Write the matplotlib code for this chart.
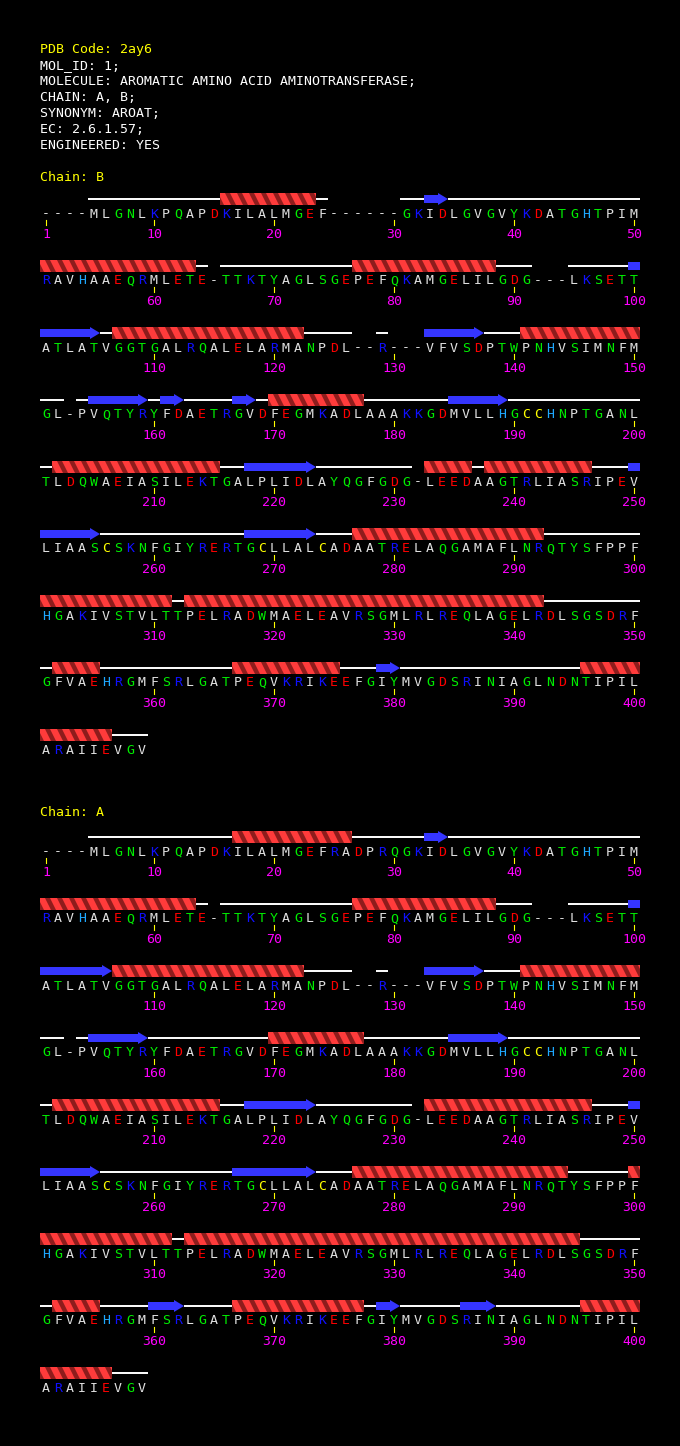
import numpy as np
import matplotlib
matplotlib.use("Agg")
import matplotlib.pyplot as plt
from matplotlib.patches import Polygon

# header text
header = ["PDB Code: 2ay6", "MOL_ID: 1;",
          "MOLECULE: AROMATIC AMINO ACID AMINOTRANSFERASE;",
          "CHAIN: A, B;", "SYNONYM: AROAT;", "EC: 2.6.1.57;", "ENGINEERED: YES"]

# sequences, 50 residues per row
rows_b = ["----MLGNLKPQAPDKILALMGEF------GKIDLGVGVYKDATGHTPIM",
          "RAVHAAEQRMLETE-TTKTYAGLSGEPEFQKAMGELILGDG---LKSETT",
          "ATLATVGGTGALRQALELARMANPDL--R---VFVSDPTWPNHVSIMNFM",
          "GL-PVQTYRYFDAETRGVDFEGMKADLAAAKKGDMVLLHGCCHNPTGANL",
          "TLDQWAEIASILEKTGALPLIDLAYQGFGDG-LEEDAAGTRLIASRIPEV",
          "LIAASCSKNFGIYRERTGCLLALCADAATRELAQGAMAFLNRQTYSFPPF",
          "HGAKIVSTVLTTPELRADWMAELEAVRSGMLRLREQLAGELRDLSGSDRF",
          "GFVAEHRGMFSRLGATPEQVKRIKEEFGIYMVGDSRINIAGLNDNTIPIL",
          "ARAIIEVGV"]
rows_a = ["----MLGNLKPQAPDKILALMGEFRADPRQGKIDLGVGVYKDATGHTPIM"] + rows_b[1:]
seq_b = "".join(rows_b)
seq_a = "".join(rows_a)

# secondary structure (first, last residue)
helix_b = [(16, 23), (51, 63), (77, 88), (107, 122), (141, 150), (170, 177),
           (202, 215), (233, 236), (238, 246), (277, 292), (301, 311),
           (313, 342), (352, 355), (367, 375), (396, 406)]
strand_b = [(33, 34), (100, 105), (133, 137), (155, 159), (161, 162),
            (167, 168), (185, 189), (218, 223), (250, 255), (268, 273),
            (379, 380)]
helix_a = [(17, 26), (51, 63), (77, 88), (107, 122), (141, 150), (170, 177),
           (202, 215), (233, 246), (277, 294), (300, 311), (313, 345),
           (352, 355), (367, 377), (396, 406)]
strand_a = [(33, 34), (100, 106), (133, 137), (155, 159), (185, 189),
            (218, 223), (250, 255), (267, 273), (360, 362), (379, 380),
            (386, 388)]

aa_col = {}
for c in "AVLIMFP-":
    aa_col[c] = "#e0e0e0"
for c in "GSTNQYW":
    aa_col[c] = "#00ee00"
for c in "DE":
    aa_col[c] = "#ff0000"
for c in "KR":
    aa_col[c] = "#1010ff"
aa_col["H"] = "#1ea8ff"
aa_col["C"] = "#ffff00"

FONT = "DejaVu Sans Mono"
FS = 9.5
PER_ROW = 50
DX = 12
X0 = 46
ROW_GAP = 67


def xc(i):
    return X0 + DX * (i % PER_ROW)


def clip_x(pts, lo, hi):
    # clip a convex polygon to lo <= x <= hi
    def cut(poly, inside, xcut):
        out = []
        for k in range(len(poly)):
            p, q = poly[k], poly[(k + 1) % len(poly)]
            pin, qin = inside(p[0]), inside(q[0])
            if pin:
                out.append(p)
            if pin != qin:
                t = (xcut - p[0]) / (q[0] - p[0])
                out.append((xcut, p[1] + t * (q[1] - p[1])))
        return out
    pts = cut(pts, lambda x: x >= lo, lo)
    if pts:
        pts = cut(pts, lambda x: x <= hi, hi)
    return pts


def draw_helix(ax, xl, xr, y0):
    top, bot = y0 - 6, y0 + 6
    ax.add_patch(Polygon([(xl, top), (xr, top), (xr, bot), (xl, bot)],
                         closed=True, facecolor="#ff3b3b", edgecolor="none"))
    for k in range(-1, int((xr - xl) // DX) + 1):
        a = xl + DX * k + 5
        pts = clip_x([(a, top), (a + 5, top), (a + 11, bot), (a + 6, bot)],
                     xl, xr)
        if len(pts) >= 3:
            ax.add_patch(Polygon(pts, closed=True, facecolor="#8e1c1c",
                                 edgecolor="none"))


def draw_strand(ax, xl, xr, y0, head):
    col = "#3535ff"
    if head:
        hx = xr - 10
        pts = [(xl, y0 - 4), (hx, y0 - 4), (hx, y0 - 6), (xr, y0),
               (hx, y0 + 6), (hx, y0 + 4), (xl, y0 + 4)]
    else:
        pts = [(xl, y0 - 4), (xr, y0 - 4), (xr, y0 + 4), (xl, y0 + 4)]
    ax.add_patch(Polygon(pts, closed=True, facecolor=col, edgecolor="none"))


def draw_chain(ax, seq, helices, strands, y_first):
    n = len(seq)
    ss = ["-" if ch == "-" else "C" for ch in seq]
    for s, e in helices:
        for k in range(s - 1, e):
            ss[k] = "H"
    for s, e in strands:
        for k in range(s - 1, e):
            ss[k] = "E"
    nrows = int(np.ceil(n / PER_ROW))
    for r in range(nrows):
        y0 = y_first + ROW_GAP * r
        lo, hi = r * PER_ROW, min(n, (r + 1) * PER_ROW)
        for i in range(lo, hi):
            ax.text(xc(i), y0 + 18.5, seq[i], color=aa_col[seq[i]],
                    ha="center", va="baseline", family=FONT, fontsize=FS)
            num = i + 1
            if num == 1 or num % 10 == 0:
                ax.plot([xc(i), xc(i)], [y0 + 21, y0 + 26], color="#ffff00",
                        lw=0.8)
                ax.text(xc(i), y0 + 39, str(num), color="#ff00ff",
                        ha="center", va="baseline", family=FONT, fontsize=FS)
        i = lo
        while i < hi:
            t = ss[i]
            j = i
            while j + 1 < hi and ss[j + 1] == t:
                j += 1
            xl, xr = xc(i) - DX / 2, xc(j) + DX / 2
            if t == "C":
                ax.plot([xl, xr], [y0, y0], color="white", lw=1.4,
                        solid_capstyle="butt")
            elif t == "H":
                draw_helix(ax, xl, xr, y0)
            elif t == "E":
                head = not (j + 1 < n and ss[j + 1] == "E")
                draw_strand(ax, xl, xr, y0, head)
            i = j + 1


fig = plt.figure(figsize=(6.8, 14.46), dpi=100, facecolor="black")
ax = fig.add_axes([0, 0, 1, 1])
ax.set_facecolor("black")
ax.set_xlim(0, 680)
ax.set_ylim(1446, 0)
ax.axis("off")

for k, line in enumerate(header):
    ax.text(40, 53 + 16 * k, line, color="#ffff00" if k == 0 else "white",
            ha="left", va="baseline", family=FONT, fontsize=FS)

ax.text(40, 181, "Chain: B", color="#ffff00", ha="left", va="baseline",
        family=FONT, fontsize=FS)
draw_chain(ax, seq_b, helix_b, strand_b, 199)

ax.text(40, 816, "Chain: A", color="#ffff00", ha="left", va="baseline",
        family=FONT, fontsize=FS)
draw_chain(ax, seq_a, helix_a, strand_a, 837)

fig.savefig("out.png", dpi=100, facecolor="black")
